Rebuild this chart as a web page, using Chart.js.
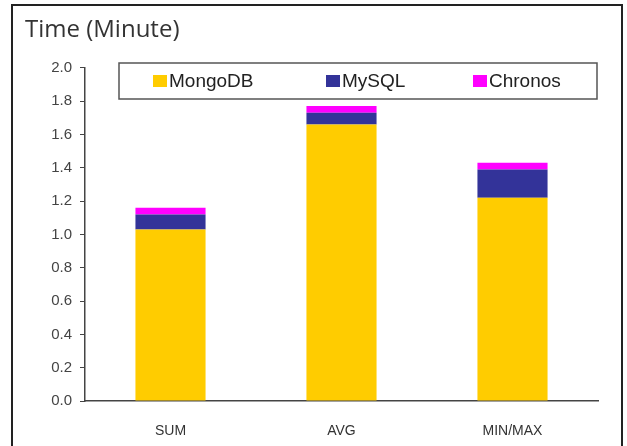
<!DOCTYPE html>
<html>
<head>
<meta charset="utf-8">
<script src="https://cdn.jsdelivr.net/npm/chart.js@4"></script>
<style>
    html, body { margin: 0; padding: 0; background: #fff; }
    #wrap { position: relative; width: 627px; height: 446px; overflow: hidden; }
    #frame {
        position: absolute; left: 11px; top: 4px; width: 612px; height: 460px;
        border: 2px solid #222; box-sizing: border-box;
    }
    canvas { position: absolute; left: 0; top: 0; }
</style>
</head>
<body>
<div id="wrap">
    <div id="frame"></div>
    <canvas id="timeChart" width="627" height="446"></canvas>
</div>
<script>
// Chart data
const categories = ['SUM', 'AVG', 'MIN/MAX'];
const seriesNames = ['MongoDB', 'MySQL', 'Chronos'];
const mongoValues = [1.03, 1.66, 1.22];
const mysqlValues = [0.09, 0.07, 0.17];
const chronosValues = [0.04, 0.04, 0.04];
const seriesColors = ['#FFCC00', '#333399', '#FF00FF'];
const yTicks = [0.0, 0.2, 0.4, 0.6, 0.8, 1.0, 1.2, 1.4, 1.6, 1.8, 2.0];

// Boxed legend drawn inside the plot area, like the original
const boxLegend = {
    id: 'boxLegend',
    afterDraw(chart) {
        const ctx = chart.ctx;
        const box = { x: 119, y: 63, w: 478, h: 36 };
        const itemX = [153, 326, 473];
        ctx.save();
        ctx.fillStyle = '#fff';
        ctx.fillRect(box.x, box.y, box.w, box.h);
        ctx.strokeStyle = '#555';
        ctx.lineWidth = 1.5;
        ctx.strokeRect(box.x, box.y, box.w, box.h);
        ctx.font = '19px "Liberation Sans", Arial, sans-serif';
        ctx.textBaseline = 'middle';
        chart.data.datasets.forEach((ds, i) => {
            const cy = box.y + box.h / 2;
            ctx.fillStyle = ds.backgroundColor;
            ctx.fillRect(itemX[i], cy - 6, 14, 12);
            ctx.fillStyle = '#222';
            ctx.fillText(ds.label, itemX[i] + 16, cy + 1);
        });
        ctx.restore();
    }
};

const ctx = document.getElementById('timeChart').getContext('2d');
new Chart(ctx, {
    type: 'bar',
    data: {
        labels: categories,
        datasets: [
            { label: seriesNames[0], data: mongoValues, backgroundColor: seriesColors[0] },
            { label: seriesNames[1], data: mysqlValues, backgroundColor: seriesColors[1] },
            { label: seriesNames[2], data: chronosValues, backgroundColor: seriesColors[2] }
        ]
    },
    options: {
        responsive: false,
        animation: false,
        layout: { padding: { left: 25, right: 29, top: 0, bottom: 0 } },
        datasets: {
            bar: { categoryPercentage: 1.0, barPercentage: 0.41 }
        },
        plugins: {
            legend: { display: false },
            tooltip: { enabled: false },
            title: {
                display: true,
                text: 'Time (Minute)',
                align: 'start',
                color: '#333',
                font: { family: '"Open Sans", sans-serif', size: 24, weight: 'normal' },
                padding: { top: 16, bottom: 23 }
            }
        },
        scales: {
            x: {
                stacked: true,
                afterFit: axis => { axis.height = 45; },
                grid: { display: false, drawTicks: false },
                border: { color: '#444', width: 1.5 },
                ticks: {
                    padding: 22,
                    color: '#333',
                    font: { family: '"Liberation Sans", Arial, sans-serif', size: 14 }
                }
            },
            y: {
                stacked: true,
                min: 0,
                max: 2,
                afterBuildTicks: axis => { axis.ticks = yTicks.map(v => ({ value: v })); },
                afterFit: axis => { axis.width = 60; },
                grid: { drawOnChartArea: false, tickLength: 5, color: '#444' },
                border: { color: '#444', width: 1.5 },
                ticks: {
                    padding: 8,
                    color: '#444',
                    font: { family: '"Liberation Sans", Arial, sans-serif', size: 15 },
                    callback: v => Number(v).toFixed(1)
                }
            }
        }
    },
    plugins: [boxLegend]
});
</script>
</body>
</html>
